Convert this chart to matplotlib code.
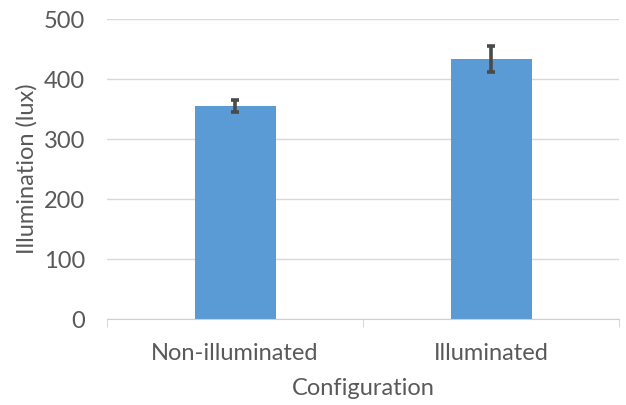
import matplotlib
matplotlib.use('Agg')
import matplotlib.pyplot as plt
import numpy as np

# data
categories = ['Non-illuminated', 'Illuminated']
illumination = [355, 433]
errors = [10, 22]

plt.rcParams['font.family'] = ['Lato', 'DejaVu Sans']

fig = plt.figure(figsize=(6.26, 4.05), dpi=100)
ax = fig.add_axes([0.171, 0.2123, 0.818, 0.7407])

x = np.arange(len(categories))
ax.bar(x, illumination, width=0.316, color='#5B9BD5', zorder=2)
ax.errorbar(x, illumination, yerr=errors, fmt='none', ecolor='#4a4a4a',
            elinewidth=2.6, capsize=3.2, capthick=2.6, zorder=3)

ax.set_xlim(-0.5, 1.5)
ax.set_ylim(0, 500)
ax.set_yticks(range(0, 501, 100))
ax.set_xticks(x)
ax.set_xticklabels(categories)
ax.set_xticks([-0.5, 0.5, 1.5], minor=True)

ax.grid(axis='y', color='#d9d9d9', linewidth=1, zorder=0)
for s in ['top', 'right', 'left']:
    ax.spines[s].set_visible(False)
ax.spines['bottom'].set_color('#d0d0d0')
ax.tick_params(axis='y', length=0, labelsize=17, labelcolor='#595959', pad=16)
ax.tick_params(axis='x', which='major', length=0, labelsize=17, labelcolor='#595959', pad=17)
ax.tick_params(axis='x', which='minor', length=6, color='#d0d0d0')

ax.set_xlabel('Configuration', fontsize=17, color='#595959', labelpad=10)
ax.set_ylabel('Illumination (lux)', fontsize=17, color='#595959', labelpad=4)

plt.savefig('out.png', dpi=100)
